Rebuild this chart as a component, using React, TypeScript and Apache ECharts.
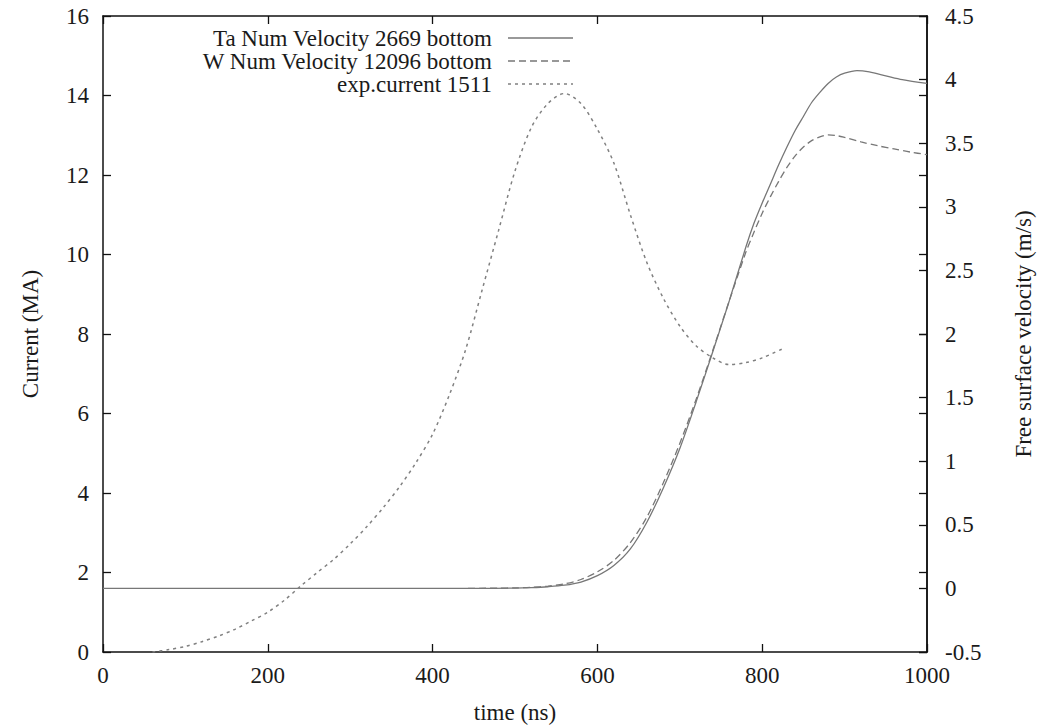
import React, { useEffect, useRef } from "react";
import * as echarts from "echarts";

// time (ns) and free surface velocity (m/s) for Ta
const taTime = [0, 100, 200, 300, 400, 450, 500, 520, 540, 560, 580, 600, 620, 640, 660, 680, 700, 720, 740, 760, 780, 790, 800, 810, 820, 830, 840, 850, 860, 870, 880, 890, 900, 915, 930, 950, 970, 1000];
const taVel = [0, 0, 0, 0, 0, 0, 0.002, 0.006, 0.013, 0.025, 0.05, 0.1, 0.18, 0.31, 0.52, 0.79, 1.1, 1.47, 1.86, 2.26, 2.68, 2.87, 3.03, 3.18, 3.33, 3.47, 3.6, 3.71, 3.82, 3.9, 3.97, 4.02, 4.05, 4.07, 4.06, 4.03, 4.0, 3.97];

// W
const wTime = [443, 480, 500, 520, 540, 560, 580, 600, 620, 640, 660, 680, 700, 720, 740, 760, 780, 790, 800, 810, 820, 830, 840, 850, 860, 870, 880, 890, 900, 920, 940, 960, 980, 1000];
const wVel = [0, 0.002, 0.004, 0.008, 0.018, 0.035, 0.07, 0.13, 0.22, 0.36, 0.56, 0.83, 1.14, 1.49, 1.87, 2.26, 2.64, 2.8, 2.95, 3.08, 3.2, 3.31, 3.4, 3.47, 3.52, 3.55, 3.565, 3.56, 3.545, 3.51, 3.48, 3.455, 3.43, 3.41];

// experimental current (MA)
const expTime = [60, 80, 100, 120, 140, 160, 180, 200, 220, 240, 260, 280, 300, 320, 340, 360, 380, 400, 420, 440, 460, 480, 500, 520, 540, 560, 580, 600, 620, 640, 660, 680, 700, 720, 740, 760, 780, 800, 826];
const expCurrent = [0, 0.06, 0.14, 0.26, 0.4, 0.57, 0.78, 1.0, 1.3, 1.66, 2.0, 2.33, 2.72, 3.15, 3.63, 4.16, 4.77, 5.48, 6.45, 7.6, 9.1, 10.6, 12.1, 13.2, 13.8, 14.05, 13.8, 13.15, 12.3, 11.0, 9.8, 8.9, 8.2, 7.7, 7.4, 7.23, 7.28, 7.4, 7.64];

const xTicks = { min: 0, max: 1000, interval: 200 };
const yLeft = { min: 0, max: 16, interval: 2 };
const yRight = { min: -0.5, max: 4.5, interval: 0.5 };

const legendNames = ["Ta Num Velocity 2669 bottom", "W Num Velocity 12096 bottom", "exp.current 1511"];

const FONT = "Liberation Serif";
const FS = 23;
const TXT = "#1a1a1a";
const LINE = "#777777";

const zip = (a: number[], b: number[]) => a.map((v, i) => [v, b[i]]);

export default function App() {
  const ref = useRef<HTMLDivElement>(null);
  useEffect(() => {
    if (!ref.current) return;
    const chart = echarts.init(ref.current, undefined, { renderer: "svg" });
    const axisLine = { show: true, onZero: false, lineStyle: { color: "#111", width: 1.5 } };
    const tick = { show: true, inside: true, length: 8, lineStyle: { color: "#111", width: 1.3 } };
    const label = { fontFamily: FONT, fontSize: FS, color: TXT, formatter: (v: number) => String(v) };
    const dashes = [null, [7, 4], [3, 4]];
    const lgY = [38, 61, 84];
    const txt = (text: string, x: number, y: number, align: string, rot = 0) => ({
      type: "text", x, y, rotation: rot,
      style: { text, fontFamily: FONT, fontSize: FS, fill: TXT, align, verticalAlign: "middle" },
    });
    chart.setOption({
      animation: false,
      backgroundColor: "#fff",
      grid: { left: 103, right: 112, top: 16, bottom: 74, containLabel: false },
      xAxis: [
        { type: "value", position: "bottom", ...xTicks, axisLine, axisTick: tick, splitLine: { show: false },
          axisLabel: { ...label, margin: 12 } },
        { type: "value", position: "top", ...xTicks, axisLine, axisTick: tick, splitLine: { show: false },
          axisLabel: { show: false } },
      ],
      yAxis: [
        { type: "value", position: "left", ...yLeft, axisLine, axisTick: tick, splitLine: { show: false },
          axisLabel: { ...label, margin: 14 } },
        { type: "value", position: "right", ...yRight, axisLine, axisTick: tick, splitLine: { show: false },
          axisLabel: { ...label, margin: 18 } },
        { type: "value", position: "right", ...yLeft, axisLine, axisTick: tick, splitLine: { show: false },
          axisLabel: { show: false } },
      ],
      series: [
        { name: legendNames[0], type: "line", xAxisIndex: 0, yAxisIndex: 1, data: zip(taTime, taVel),
          showSymbol: false, symbol: "none", smooth: 0.3,
          lineStyle: { color: LINE, width: 1.3, type: "solid" } },
        { name: legendNames[1], type: "line", xAxisIndex: 0, yAxisIndex: 1, data: zip(wTime, wVel),
          showSymbol: false, symbol: "none", smooth: 0.3,
          lineStyle: { color: LINE, width: 1.3, type: [7, 4] } },
        { name: legendNames[2], type: "line", xAxisIndex: 0, yAxisIndex: 0, data: zip(expTime, expCurrent),
          showSymbol: false, symbol: "none", smooth: 0.3,
          lineStyle: { color: "#808080", width: 1.5, type: [3, 4] } },
      ],
      graphic: [
        ...legendNames.map((n, i) => txt(n, 492, lgY[i], "right")),
        ...legendNames.map((_, i) => ({
          type: "line", shape: { x1: 508, y1: lgY[i], x2: 573, y2: lgY[i] },
          style: { stroke: i === 2 ? "#808080" : LINE, lineWidth: i === 2 ? 1.5 : 1.3, lineDash: dashes[i] || undefined },
        })),
        txt("Current (MA)", 30, 334, "center", Math.PI / 2),
        txt("Free surface velocity (m/s)", 1023, 334, "center", Math.PI / 2),
        txt("time (ns)", 515, 712, "center"),
      ],
    });
    return () => chart.dispose();
  }, []);
  return <div ref={ref} style={{ position: "fixed", left: 0, top: 0, width: 1039, height: 726, background: "#fff" }} />;
}
